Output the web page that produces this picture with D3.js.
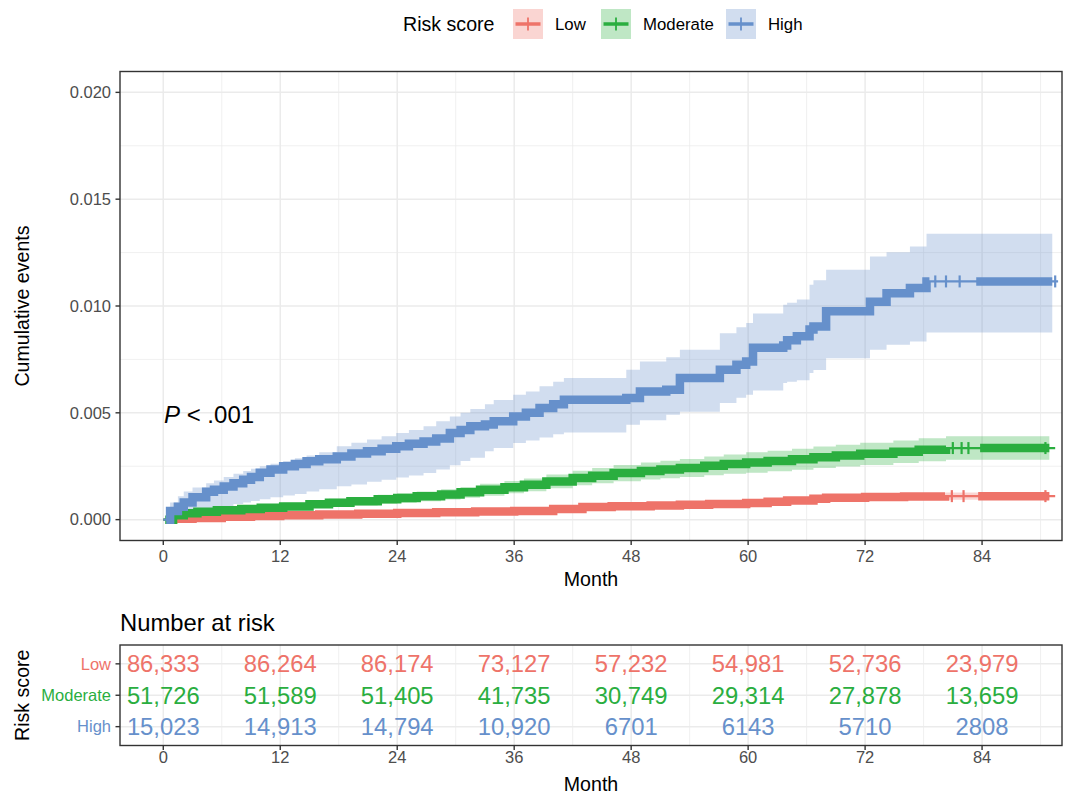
<!DOCTYPE html>
<html>
<head>
<meta charset="utf-8">
<script src="https://cdn.jsdelivr.net/npm/d3@7"></script>
<style>
  body { margin: 0; background: #ffffff; }
  text { font-family: "Liberation Sans", Arial, Helvetica, sans-serif; }
</style>
</head>
<body>
<svg id="chart" width="1077" height="794"></svg>
<script>
// ---------------- data ----------------
const groups = ["Low", "Moderate", "High"];
const groupColors = ["#EE7369", "#2AAE3F", "#6690CB"];

// Cumulative incidence step curves (month, estimate, lower CI, upper CI)
const lowTime  = [0, 1.0, 3.0, 6.0, 9.0, 12.0, 16.0, 20.0, 24.0, 28.0, 32.0, 36.0, 40.0, 43.0, 46.0, 50.0, 53.0, 56.0, 59.8, 62.0, 64.0, 66.7, 68.0, 72.0, 76.0, 80.2];
const lowEst   = [0, 0.00004, 0.00008, 0.00013, 0.00017, 0.00020, 0.00024, 0.00028, 0.00031, 0.00034, 0.00038, 0.00041, 0.00050, 0.00059, 0.00063, 0.00066, 0.00070, 0.00073, 0.00078, 0.00084, 0.00090, 0.00098, 0.00103, 0.00106, 0.00108, 0.00110];
const lowLower = [0, 0.00002, 0.00005, 0.00009, 0.00013, 0.00016, 0.00019, 0.00023, 0.00026, 0.00029, 0.00032, 0.00035, 0.00043, 0.00051, 0.00055, 0.00057, 0.00060, 0.00063, 0.00067, 0.00072, 0.00077, 0.00084, 0.00088, 0.00090, 0.00092, 0.00093];
const lowUpper = [0, 0.00006, 0.00011, 0.00017, 0.00021, 0.00025, 0.00029, 0.00033, 0.00036, 0.00040, 0.00044, 0.00047, 0.00057, 0.00067, 0.00071, 0.00075, 0.00079, 0.00083, 0.00089, 0.00096, 0.00103, 0.00112, 0.00118, 0.00122, 0.00124, 0.00127];

const modTime  = [0, 1.0, 2.1, 3.5, 5.5, 8.0, 10.0, 12.3, 15.0, 17.0, 19.2, 22.0, 24.0, 26.0, 28.5, 30.5, 32.5, 35.0, 37.0, 39.3, 42.0, 44.0, 46.2, 49.0, 51.0, 53.0, 55.5, 57.5, 59.8, 62.0, 64.5, 66.7, 69.0, 71.5, 74.9, 77.5, 80.3];
const modEst   = [0, 0.00020, 0.00030, 0.00037, 0.00044, 0.00050, 0.00056, 0.00062, 0.00072, 0.00079, 0.00086, 0.00095, 0.00101, 0.00109, 0.00118, 0.00128, 0.00140, 0.00152, 0.00163, 0.00179, 0.00195, 0.00206, 0.00218, 0.00228, 0.00235, 0.00242, 0.00252, 0.00260, 0.00268, 0.00274, 0.00283, 0.00292, 0.00300, 0.00308, 0.00318, 0.00327, 0.00335];
const modLower = [0, 0.00010, 0.00018, 0.00024, 0.00030, 0.00035, 0.00040, 0.00045, 0.00054, 0.00060, 0.00066, 0.00074, 0.00079, 0.00086, 0.00094, 0.00103, 0.00112, 0.00123, 0.00133, 0.00147, 0.00161, 0.00170, 0.00180, 0.00188, 0.00194, 0.00200, 0.00208, 0.00215, 0.00220, 0.00226, 0.00234, 0.00242, 0.00249, 0.00256, 0.00265, 0.00273, 0.00280];
const modUpper = [0, 0.00030, 0.00042, 0.00050, 0.00058, 0.00065, 0.00072, 0.00079, 0.00090, 0.00098, 0.00106, 0.00116, 0.00123, 0.00132, 0.00142, 0.00153, 0.00168, 0.00181, 0.00193, 0.00211, 0.00229, 0.00242, 0.00256, 0.00268, 0.00276, 0.00284, 0.00296, 0.00305, 0.00316, 0.00322, 0.00332, 0.00342, 0.00351, 0.00360, 0.00371, 0.00381, 0.00390];

const highTime  = [0, 0.7, 1.5, 2.1, 3.0, 4.4, 5.2, 6.2, 7.2, 8.2, 9.0, 9.9, 11.0, 12.3, 13.5, 14.7, 16.0, 17.8, 19.3, 20.9, 22.4, 23.9, 25.2, 26.7, 28.0, 29.4, 30.5, 31.5, 33.0, 33.9, 35.9, 37.2, 38.6, 40.0, 41.1, 47.5, 48.9, 51.6, 53.0, 57.1, 58.8, 59.8, 60.5, 63.6, 64.0, 65.0, 66.3, 66.7, 68.0, 72.5, 74.2, 76.6, 78.3];
const highEst   = [0, 0.00040, 0.00060, 0.00080, 0.00105, 0.00130, 0.00140, 0.00155, 0.00170, 0.00187, 0.00200, 0.00220, 0.00235, 0.00250, 0.00260, 0.00273, 0.00283, 0.00296, 0.00310, 0.00320, 0.00332, 0.00343, 0.00355, 0.00366, 0.00380, 0.00406, 0.00420, 0.00437, 0.00445, 0.00460, 0.00483, 0.00500, 0.00522, 0.00540, 0.00561, 0.00569, 0.00600, 0.00608, 0.00663, 0.00702, 0.00725, 0.00740, 0.00805, 0.00815, 0.00840, 0.00858, 0.00890, 0.00904, 0.00975, 0.01020, 0.01060, 0.01084, 0.01115];
const highLower = [0, 0.00000, 0.00010, 0.00015, 0.00028, 0.00045, 0.00052, 0.00063, 0.00073, 0.00080, 0.00087, 0.00095, 0.00105, 0.00113, 0.00120, 0.00132, 0.00142, 0.00156, 0.00165, 0.00177, 0.00187, 0.00197, 0.00207, 0.00218, 0.00235, 0.00255, 0.00275, 0.00290, 0.00320, 0.00335, 0.00359, 0.00370, 0.00385, 0.00400, 0.00408, 0.00444, 0.00465, 0.00491, 0.00505, 0.00546, 0.00570, 0.00585, 0.00605, 0.00640, 0.00645, 0.00652, 0.00686, 0.00700, 0.00756, 0.00795, 0.00819, 0.00834, 0.00876];
const highUpper = [0, 0.00080, 0.00110, 0.00132, 0.00150, 0.00170, 0.00183, 0.00200, 0.00215, 0.00228, 0.00238, 0.00250, 0.00262, 0.00275, 0.00287, 0.00300, 0.00315, 0.00343, 0.00360, 0.00375, 0.00390, 0.00405, 0.00420, 0.00437, 0.00460, 0.00483, 0.00500, 0.00518, 0.00540, 0.00560, 0.00585, 0.00600, 0.00624, 0.00645, 0.00663, 0.00702, 0.00740, 0.00760, 0.00795, 0.00873, 0.00900, 0.00920, 0.00965, 0.01006, 0.01015, 0.01030, 0.01100, 0.01120, 0.01170, 0.01232, 0.01252, 0.01279, 0.01338];

// last follow-up month of each curve and of its confidence band
const curveEnd  = [91.5, 91.5, 91.8];
const ribbonEnd = [90.9, 90.9, 91.2];

// stretches of follow-up with heavy censoring, and isolated censoring times
const lowDense  = [[0.5, 80.2], [83.6, 90.9]];
const modDense  = [[0.2, 80.3], [83.8, 90.9]];
const highDense = [[0.3, 78.6], [83.4, 91.2]];
const lowCensor  = [80.9, 82.1, 90.5];
const modCensor  = [81.0, 81.9, 82.6, 90.5];
const highCensor = [79.2, 80.3, 81.7, 91.5];

// number at risk table
const riskTimes    = [0, 12, 24, 36, 48, 60, 72, 84];
const riskLow      = [86333, 86264, 86174, 73127, 57232, 54981, 52736, 23979];
const riskModerate = [51726, 51589, 51405, 41735, 30749, 29314, 27878, 13659];
const riskHigh     = [15023, 14913, 14794, 10920, 6701, 6143, 5710, 2808];

const xTicks = [0, 12, 24, 36, 48, 60, 72, 84];
const xMinor = [6, 18, 30, 42, 54, 66, 78, 90];
const yTicks = [0, 0.005, 0.010, 0.015, 0.020];
const yMinor = [0.0025, 0.0075, 0.0125, 0.0175];
const pLabel = ".001";

// ---------------- layout ----------------
const panel = { left: 120, right: 1062, top: 71.5, bottom: 540.5 };
const table = { top: 645, bottom: 745.5 };
const gridCol = "#EBEBEB", borderCol = "#333333", tickTextCol = "#4D4D4D";
const bandWidth = 8.5;

const svg = d3.select("#chart");

const x = d3.scaleLinear().domain([-4.44, 92.2]).range([panel.left, panel.right]);
const y = d3.scaleLinear().domain([-0.001, 0.021]).range([541, 71]);

const series = [
  { t: lowTime,  est: lowEst,  lo: lowLower,  hi: lowUpper,  dense: lowDense,  cens: lowCensor },
  { t: modTime,  est: modEst,  lo: modLower,  hi: modUpper,  dense: modDense,  cens: modCensor },
  { t: highTime, est: highEst, lo: highLower, hi: highUpper, dense: highDense, cens: highCensor }
];

function valueAt(times, vals, t) {
  let v = vals[0];
  for (let i = 0; i < times.length; i++) if (times[i] <= t) v = vals[i];
  return v;
}
function stepSeg(times, vals, t0, t1) {
  const pts = [[t0, valueAt(times, vals, t0)]];
  times.forEach((t, i) => { if (t > t0 && t < t1) pts.push([t, vals[i]]); });
  pts.push([t1, valueAt(times, vals, t1)]);
  return pts;
}

// ---------------- main panel ----------------
svg.append("defs").append("clipPath").attr("id", "clipMain")
  .append("rect").attr("x", panel.left).attr("y", panel.top)
  .attr("width", panel.right - panel.left).attr("height", panel.bottom - panel.top);

const gGrid = svg.append("g");
gGrid.selectAll(".ym").data(yMinor).join("line")
  .attr("x1", panel.left).attr("x2", panel.right)
  .attr("y1", d => y(d)).attr("y2", d => y(d))
  .attr("stroke", gridCol).attr("stroke-width", 0.75);
gGrid.selectAll(".xm").data(xMinor).join("line")
  .attr("x1", d => x(d)).attr("x2", d => x(d))
  .attr("y1", panel.top).attr("y2", panel.bottom)
  .attr("stroke", gridCol).attr("stroke-width", 0.75);
gGrid.selectAll(".yM").data(yTicks).join("line")
  .attr("x1", panel.left).attr("x2", panel.right)
  .attr("y1", d => y(d)).attr("y2", d => y(d))
  .attr("stroke", gridCol).attr("stroke-width", 1.5);
gGrid.selectAll(".xM").data(xTicks).join("line")
  .attr("x1", d => x(d)).attr("x2", d => x(d))
  .attr("y1", panel.top).attr("y2", panel.bottom)
  .attr("stroke", gridCol).attr("stroke-width", 1.5);

const gData = svg.append("g").attr("clip-path", "url(#clipMain)");

const area = d3.area().curve(d3.curveStepAfter)
  .x(d => x(d[0])).y0(d => y(d[1])).y1(d => y(d[2]));
const line = d3.line().curve(d3.curveStepAfter)
  .x(d => x(d[0])).y(d => y(d[1]));

// confidence bands
series.forEach((s, gi) => {
  const pts = s.t.map((t, i) => [t, s.lo[i], s.hi[i]]);
  const last = pts[pts.length - 1];
  pts.push([ribbonEnd[gi], last[1], last[2]]);
  gData.append("path").attr("d", area(pts))
    .attr("fill", groupColors[gi]).attr("fill-opacity", 0.3);
});

// curves with censoring marks
series.forEach((s, gi) => {
  const col = groupColors[gi];
  gData.append("path").attr("d", line(stepSeg(s.t, s.est, 0, curveEnd[gi])))
    .attr("fill", "none").attr("stroke", col).attr("stroke-width", 2.2);
  s.dense.forEach(([a, b]) => {
    gData.append("path").attr("d", line(stepSeg(s.t, s.est, a, b)))
      .attr("fill", "none").attr("stroke", col).attr("stroke-width", bandWidth);
  });
  gData.selectAll(null).data(s.cens).join("line")
    .attr("x1", d => x(d)).attr("x2", d => x(d))
    .attr("y1", d => y(valueAt(s.t, s.est, d)) - 6)
    .attr("y2", d => y(valueAt(s.t, s.est, d)) + 6)
    .attr("stroke", col).attr("stroke-width", 2.2);
});

// panel border
svg.append("rect").attr("x", panel.left).attr("y", panel.top)
  .attr("width", panel.right - panel.left).attr("height", panel.bottom - panel.top)
  .attr("fill", "none").attr("stroke", borderCol).attr("stroke-width", 1.4);

// y axis
const gy = svg.append("g");
gy.selectAll("line").data(yTicks).join("line")
  .attr("x1", panel.left - 4.5).attr("x2", panel.left)
  .attr("y1", d => y(d)).attr("y2", d => y(d))
  .attr("stroke", borderCol).attr("stroke-width", 1.4);
gy.selectAll("text").data(yTicks).join("text")
  .attr("x", panel.left - 9).attr("y", d => y(d)).attr("dy", "0.35em")
  .attr("text-anchor", "end").attr("font-size", 16.5).attr("fill", tickTextCol)
  .text(d => d3.format(".3f")(d));

// x axis
function xAxis(yLine, yLabel) {
  const g = svg.append("g");
  g.selectAll("line").data(xTicks).join("line")
    .attr("x1", d => x(d)).attr("x2", d => x(d))
    .attr("y1", yLine).attr("y2", yLine + 4.5)
    .attr("stroke", borderCol).attr("stroke-width", 1.4);
  g.selectAll("text").data(xTicks).join("text")
    .attr("x", d => x(d)).attr("y", yLabel).attr("dy", "0.35em")
    .attr("text-anchor", "middle").attr("font-size", 16.5).attr("fill", tickTextCol)
    .text(d => d);
}
xAxis(panel.bottom, 556.5);

const panelMid = (panel.left + panel.right) / 2;
svg.append("text").attr("x", panelMid).attr("y", 579).attr("dy", "0.35em")
  .attr("text-anchor", "middle").attr("font-size", 19.6).attr("fill", "#000")
  .text("Month");
svg.append("text")
  .attr("transform", `translate(22,${(panel.top + panel.bottom) / 2}) rotate(-90)`)
  .attr("dy", "0.35em").attr("text-anchor", "middle").attr("font-size", 19.6)
  .attr("fill", "#000").text("Cumulative events");

// p-value annotation
const pText = svg.append("text").attr("x", 164).attr("y", 423)
  .attr("font-size", 24).attr("fill", "#000");
pText.append("tspan").attr("font-style", "italic").text("P");
pText.append("tspan").text(" < " + pLabel);

// ---------------- legend ----------------
const legend = svg.append("g");
legend.append("text").attr("x", 403).attr("y", 24).attr("dy", "0.35em")
  .attr("font-size", 19.6).attr("fill", "#000").text("Risk score");
const keyX = [513, 601, 726];
groups.forEach((gname, gi) => {
  const kx = keyX[gi], col = groupColors[gi];
  legend.append("rect").attr("x", kx).attr("y", 9).attr("width", 30).attr("height", 30)
    .attr("fill", col).attr("fill-opacity", 0.3);
  legend.append("line").attr("x1", kx + 2.5).attr("x2", kx + 27.5)
    .attr("y1", 24).attr("y2", 24).attr("stroke", col).attr("stroke-width", 3.5);
  legend.append("line").attr("x1", kx + 15).attr("x2", kx + 15)
    .attr("y1", 17.5).attr("y2", 30.5).attr("stroke", col).attr("stroke-width", 1.8);
  legend.append("text").attr("x", kx + 42).attr("y", 24).attr("dy", "0.35em")
    .attr("font-size", 16.8).attr("fill", "#000").text(gname);
});

// ---------------- number at risk table ----------------
svg.append("text").attr("x", panel.left).attr("y", 631)
  .attr("font-size", 23.8).attr("fill", "#000").text("Number at risk");

const rowY = d3.scalePoint().domain(groups).range([table.top, table.bottom]).padding(0.6);
const riskRows = [riskLow, riskModerate, riskHigh];

const gT = svg.append("g");
gT.selectAll(".tm").data(xMinor).join("line")
  .attr("x1", d => x(d)).attr("x2", d => x(d))
  .attr("y1", table.top).attr("y2", table.bottom)
  .attr("stroke", gridCol).attr("stroke-width", 0.75);
gT.selectAll(".tM").data(xTicks).join("line")
  .attr("x1", d => x(d)).attr("x2", d => x(d))
  .attr("y1", table.top).attr("y2", table.bottom)
  .attr("stroke", gridCol).attr("stroke-width", 1.5);
gT.selectAll(".tr").data(groups).join("line")
  .attr("x1", panel.left).attr("x2", panel.right)
  .attr("y1", d => rowY(d)).attr("y2", d => rowY(d))
  .attr("stroke", gridCol).attr("stroke-width", 1.5);

const fmtN = n => n >= 10000 ? d3.format(",")(n) : String(n);
groups.forEach((gname, gi) => {
  gT.selectAll(null).data(riskTimes.map((t, i) => [t, riskRows[gi][i]])).join("text")
    .attr("x", d => x(d[0])).attr("y", rowY(gname)).attr("dy", "0.35em")
    .attr("text-anchor", "middle").attr("font-size", 23.8).attr("fill", groupColors[gi])
    .text(d => fmtN(d[1]));
  gT.append("line").attr("x1", panel.left - 4.5).attr("x2", panel.left)
    .attr("y1", rowY(gname)).attr("y2", rowY(gname))
    .attr("stroke", borderCol).attr("stroke-width", 1.4);
  gT.append("text").attr("x", panel.left - 9).attr("y", rowY(gname)).attr("dy", "0.35em")
    .attr("text-anchor", "end").attr("font-size", 16.5).attr("fill", groupColors[gi])
    .text(gname);
});

svg.append("rect").attr("x", panel.left).attr("y", table.top)
  .attr("width", panel.right - panel.left).attr("height", table.bottom - table.top)
  .attr("fill", "none").attr("stroke", borderCol).attr("stroke-width", 1.4);

xAxis(table.bottom, 757);
svg.append("text").attr("x", panelMid).attr("y", 784).attr("dy", "0.35em")
  .attr("text-anchor", "middle").attr("font-size", 19.6).attr("fill", "#000")
  .text("Month");
svg.append("text")
  .attr("transform", `translate(22,${(table.top + table.bottom) / 2}) rotate(-90)`)
  .attr("dy", "0.35em").attr("text-anchor", "middle").attr("font-size", 19.6)
  .attr("fill", "#000").text("Risk score");
</script>
</body>
</html>
